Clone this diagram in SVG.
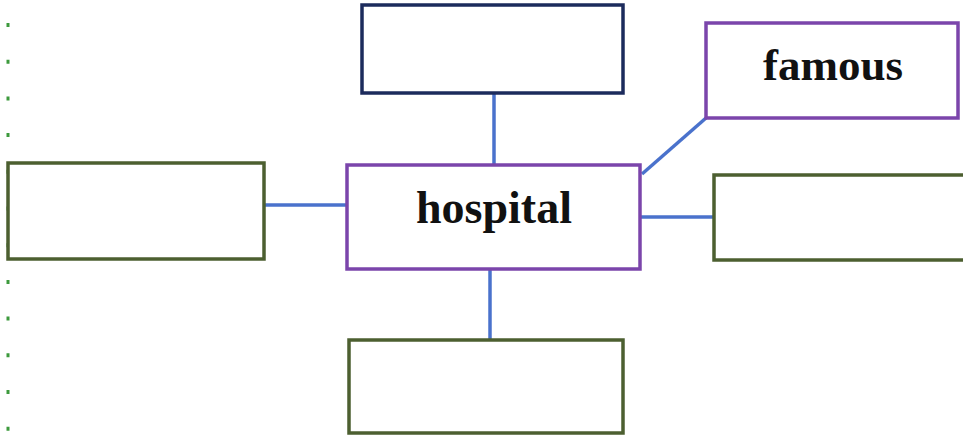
<svg xmlns="http://www.w3.org/2000/svg" width="963" height="442" viewBox="0 0 963 442">
<style>
.box{fill:#fff;stroke-width:3.5}
.navy{stroke:#1c2b5c}
.purple{stroke:#7b45ab}
.green{stroke:#4c5f30}
.conn{stroke:#4a72cc;stroke-width:3.5;fill:none}
.lbl{font-family:"Liberation Serif",serif;font-weight:bold;fill:#111;text-anchor:middle}
</style>
<rect width="963" height="442" fill="#fff"/>
<line x1="8" y1="23" x2="8" y2="440" stroke="#3d9a3d" stroke-width="3" stroke-dasharray="4 32.7"/>
<g id="connectors">
<line class="conn" x1="494" y1="93" x2="494" y2="165"/>
<line class="conn" x1="490" y1="270" x2="490" y2="340"/>
<line class="conn" x1="264" y1="205" x2="347" y2="205"/>
<line class="conn" x1="640" y1="217" x2="714" y2="217"/>
<line class="conn" x1="706" y1="118" x2="642" y2="174"/>
</g>
<g id="top"><rect class="box navy" x="362" y="5" width="261" height="88"/></g>
<g id="hospital"><rect class="box purple" x="347" y="165" width="293" height="104"/>
<text class="lbl" x="494" y="223" font-size="46">hospital</text></g>
<g id="famous"><rect class="box purple" x="706" y="23" width="252" height="95"/>
<text class="lbl" x="833" y="80" font-size="45">famous</text></g>
<g id="right"><rect class="box green" x="714" y="175" width="262" height="85"/></g>
<g id="left"><rect class="box green" x="8" y="163" width="256" height="96"/></g>
<g id="bottom"><rect class="box green" x="349" y="340" width="274" height="93"/></g>
</svg>
